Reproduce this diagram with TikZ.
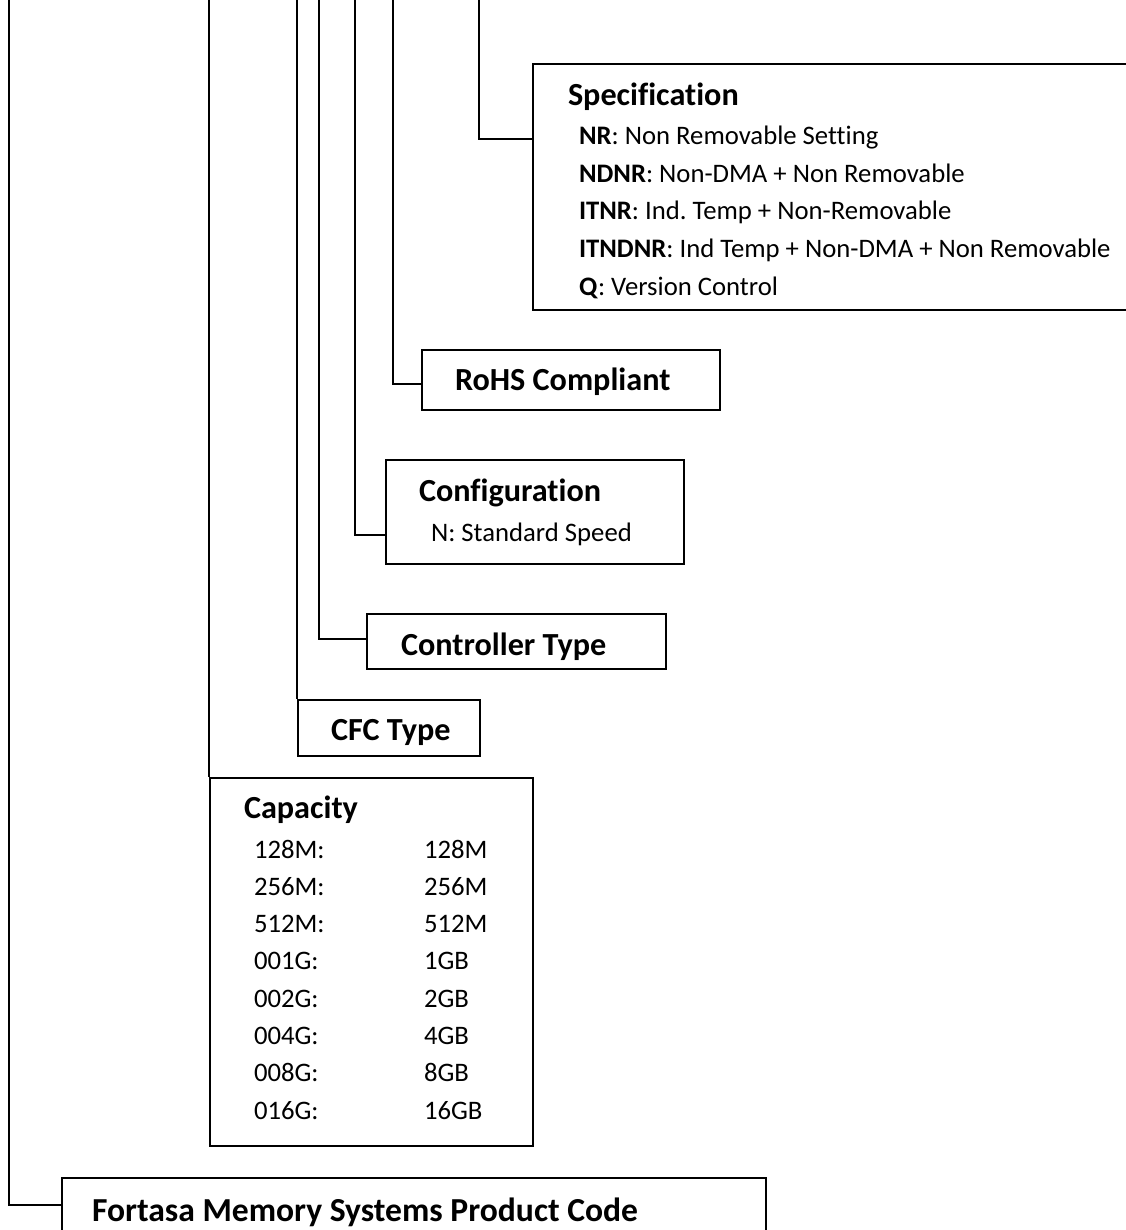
\documentclass[tikz,border=0pt]{standalone}
\usepackage{fontspec}
\setmainfont{Carlito}[Ligatures=NoCommon]
\frenchspacing
\begin{document}
\begin{tikzpicture}[x=1pt,y=-1pt,
  line width=2pt,
  box/.style={draw=black,line width=2pt,anchor=north west,inner sep=0pt},
  head/.style={anchor=base west,inner sep=0pt,font=\fontsize{32.2}{33}\selectfont\bfseries},
  item/.style={anchor=base west,inner sep=0pt,font=\fontsize{26.7}{27}\selectfont},
  wire/.style={draw=black,line width=2pt}]
\useasboundingbox (0,0) rectangle (1125,1230);
\fill[white] (0,0) rectangle (1125,1230);

% boxes (position = north west corner)
\node[box,minimum width=620,minimum height=246] (spec) at (532,63) {};
\node[box,minimum width=298,minimum height=60] (rohs) at (421,349) {};
\node[box,minimum width=298,minimum height=104] (conf) at (385,459) {};
\node[box,minimum width=299,minimum height=55] (ctrl) at (366,613) {};
\node[box,minimum width=182,minimum height=56] (cfc) at (297,699) {};
\node[box,minimum width=323,minimum height=368] (cap) at (209,777) {};
\node[box,minimum width=704,minimum height=120] (fmc) at (61,1177) {};

% specification
\node[head] (specH) at (567,106) {Specification};
\node[item] (s1) at (578,145) {\textbf{NR}: Non Removable Setting};
\node[item] (s2) at (578,182.5) {\textbf{NDNR}: Non-DMA + Non Removable};
\node[item] (s3) at (578,220) {\textbf{ITNR}: Ind. Temp + Non-Removable};
\node[item] (s4) at (578,257.5) {\textbf{ITNDNR}: Ind Temp + Non-DMA + Non Removable};
\node[item] (s5) at (578,295) {\textbf{Q}: Version Control};

% single-line boxes
\node[head] (rohsT) at (454,390) {RoHS Compliant};
\node[head] (confH) at (418,501) {Configuration};
\node[item] (confT) at (430,541) {N: Standard Speed};
\node[head] (ctrlT) at (400,655) {Controller Type};
\node[head] (cfcT) at (330,740) {CFC Type};

% capacity table
\node[head] (capH) at (243,818) {Capacity};
\foreach \k/\v [count=\i from 0] in {128M/128M,256M/256M,512M/512M,001G/1GB,002G/2GB,004G/4GB,008G/8GB,016G/16GB}{
  \node[item] (ck\i) at (253,858+37.3*\i) {\k:};
  \node[item] (cv\i) at (423,858+37.3*\i) {\v};
}

\node[head,font=\fontsize{33.6}{34}\selectfont\bfseries] (fmcT) at (91,1221) {Fortasa Memory Systems Product Code};

% connector tops
\coordinate (t0) at (9,0);
\coordinate (t1) at (209,0);
\coordinate (t2) at (297,0);
\coordinate (t3) at (319,0);
\coordinate (t4) at (355,0);
\coordinate (t5) at (393,0);
\coordinate (t6) at (479,0);

\draw[wire] (t6) |- ([yshift=-76pt]spec.north west);
\draw[wire] (t5) |- ([yshift=-35pt]rohs.north west);
\draw[wire] (t4) |- ([yshift=-76pt]conf.north west);
\draw[wire] (t3) |- ([yshift=-26pt]ctrl.north west);
\draw[wire] (t2) -- (cfc.north west);
\draw[wire] (t1) -- (cap.north west);
\draw[wire] (t0) |- ([yshift=-28pt]fmc.north west);
\end{tikzpicture}
\end{document}
